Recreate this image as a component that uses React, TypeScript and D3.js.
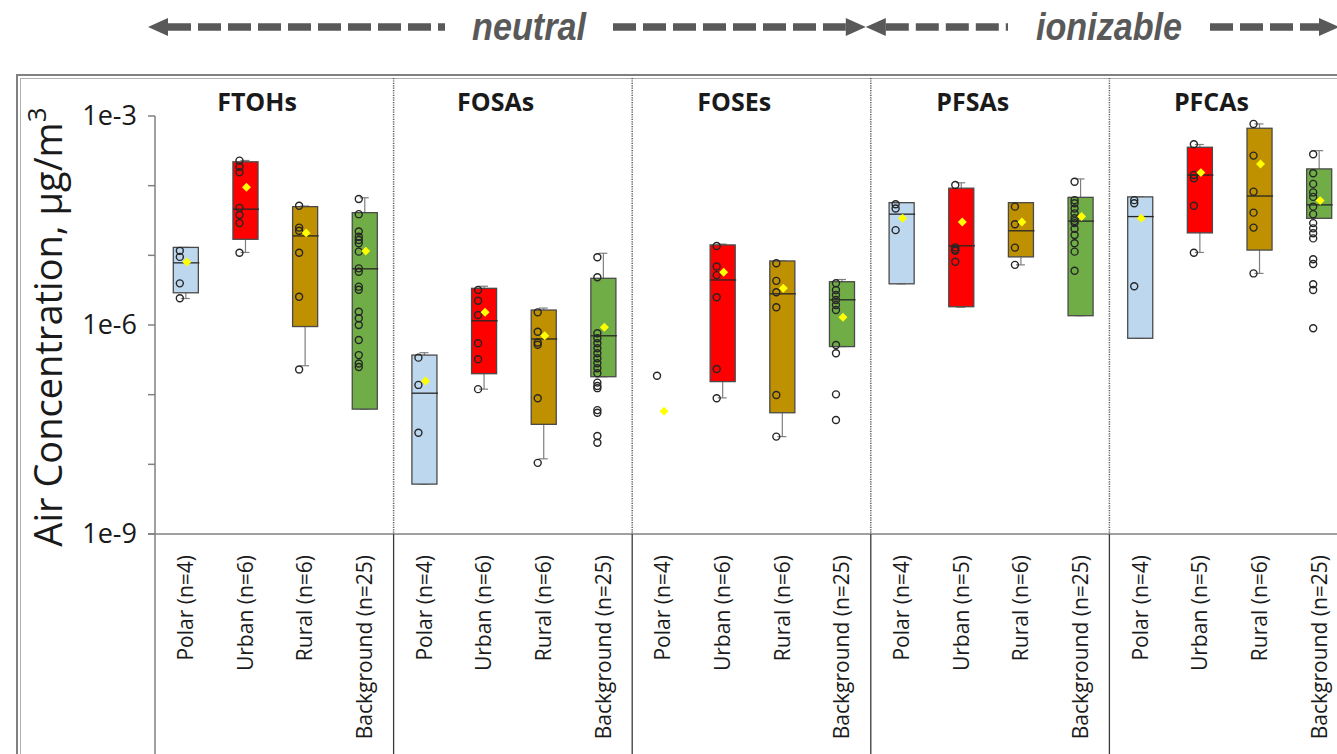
import * as d3 from 'd3';

const width = 1337;
const height = 754;

const classes = ['FTOHs', 'FOSAs', 'FOSEs', 'PFSAs', 'PFCAs'];
const sites = ['Polar', 'Urban', 'Rural', 'Background'];
const siteColors = ['#bdd7ee', '#ff0000', '#bf9000', '#70ad47'];
const sampleCounts = [
    [4, 6, 6, 25],
    [4, 6, 6, 25],
    [4, 6, 6, 25],
    [4, 5, 6, 25],
    [4, 5, 6, 25]
];
const yTicks = [1e-9, 1e-8, 1e-7, 1e-6, 1e-5, 1e-4, 1e-3];
const yTickLabels = ['1e-9', '', '', '1e-6', '', '', '1e-3'];
const groupLabels = ['neutral', 'ionizable'];

// [low whisker, q1, median, q3, high whisker] per site
const ftohBoxes = [
    [2.4e-6, 2.9e-6, 7.8e-6, 1.3e-5, 1.3e-5],
    [1.1e-5, 1.7e-5, 4.6e-5, 2.2e-4, 2.3e-4],
    [2.6e-7, 9.5e-7, 1.9e-5, 5.0e-5, 5.1e-5],
    [6.2e-8, 6.2e-8, 6.4e-6, 4.1e-5, 6.7e-5]
];
const fosaBoxes = [
    [5.2e-9, 5.2e-9, 1.05e-7, 3.7e-7, 4.0e-7],
    [1.2e-7, 2.0e-7, 1.15e-6, 3.36e-6, 3.6e-6],
    [1.2e-8, 3.75e-8, 6.3e-7, 1.64e-6, 1.75e-6],
    [1.81e-7, 1.81e-7, 7.0e-7, 4.68e-6, 1.07e-5]
];
const foseBoxes = [
    null,
    [9.0e-8, 1.54e-7, 4.43e-6, 1.41e-5, 1.45e-5],
    [2.5e-8, 5.5e-8, 2.8e-6, 8.3e-6, 8.3e-6],
    [4.9e-7, 4.9e-7, 2.3e-6, 4.18e-6, 4.5e-6]
];
const pfsaBoxes = [
    [3.9e-6, 3.9e-6, 3.9e-5, 5.7e-5, 5.7e-5],
    [1.8e-6, 1.83e-6, 1.37e-5, 9.2e-5, 1.1e-4],
    [7.3e-6, 9.5e-6, 2.25e-5, 5.7e-5, 5.7e-5],
    [1.36e-6, 1.36e-6, 3.1e-5, 6.8e-5, 1.25e-4]
];
const pfcaBoxes = [
    [6.45e-7, 6.45e-7, 3.6e-5, 6.9e-5, 6.9e-5],
    [1.1e-5, 2.1e-5, 1.42e-4, 3.56e-4, 3.9e-4],
    [5.5e-6, 1.19e-5, 7.1e-5, 6.67e-4, 7.7e-4],
    [3.4e-5, 3.4e-5, 5.3e-5, 1.74e-4, 3.18e-4]
];

const ftohMeans = [8.0e-6, 9.5e-5, 2.1e-5, 1.15e-5];
const fosaMeans = [1.57e-7, 1.52e-6, 7.0e-7, 9.3e-7];
const foseMeans = [5.8e-8, 5.7e-6, 3.36e-6, 1.29e-6];
const pfsaMeans = [3.4e-5, 3.0e-5, 3.0e-5, 3.6e-5];
const pfcaMeans = [3.4e-5, 1.54e-4, 2.05e-4, 6.1e-5];

const ftohPoints = [
    [1.16e-5, 9.5e-6, 3.96e-6, 2.42e-6],
    [2.29e-4, 1.87e-4, 1.56e-4, 4.8e-5, 3.8e-5, 2.9e-5, 1.09e-5],
    [5.15e-5, 2.5e-5, 2.25e-5, 1.09e-5, 2.55e-6, 2.3e-7],
    [6.45e-5, 3.9e-5, 2.2e-5, 1.85e-5, 1.66e-5, 1.49e-5, 1.13e-5, 6.5e-6, 5.8e-6, 3.55e-6, 3.2e-6, 1.55e-6, 1.25e-6, 1.0e-6, 6.1e-7, 3.7e-7, 2.8e-7, 2.5e-7]
];
const fosaPoints = [
    [3.4e-7, 1.38e-7, 2.84e-8],
    [3.18e-6, 2.23e-6, 1.39e-6, 5.47e-7, 3.22e-7, 1.2e-7],
    [1.52e-6, 8.0e-7, 5.6e-7, 5.2e-7, 8.9e-8, 1.05e-8],
    [9.37e-6, 4.84e-6, 7.6e-7, 6.45e-7, 5.47e-7, 4.63e-7, 3.93e-7, 3.33e-7, 2.82e-7, 2.39e-7, 2.03e-7, 1.49e-7, 1.33e-7, 1.24e-7, 6.0e-8, 5.5e-8, 2.55e-8, 2.04e-8]
];
const fosePoints = [
    [1.87e-7],
    [1.36e-5, 6.9e-6, 5.2e-6, 2.5e-6, 2.34e-7, 8.9e-8],
    [7.7e-6, 4.3e-6, 2.95e-6, 1.8e-6, 9.9e-8, 2.5e-8],
    [3.97e-6, 3.18e-6, 2.7e-6, 2.29e-6, 1.94e-6, 1.64e-6, 5.17e-7, 3.93e-7, 1.01e-7, 4.32e-8]
];
const pfsaPoints = [
    [5.4e-5, 4.7e-5, 2.3e-5],
    [1.02e-4, 1.3e-5, 1.2e-5, 1.16e-5, 8.1e-6],
    [5.0e-5, 2.8e-5, 1.29e-5, 7.3e-6],
    [1.14e-4, 6.2e-5, 5.6e-5, 4.7e-5, 4.0e-5, 3.4e-5, 3.1e-5, 2.9e-5, 2.4e-5, 1.96e-5, 1.49e-5, 1.13e-5, 6.0e-6]
];
const pfcaPoints = [
    [6.2e-5, 5.6e-5, 3.6e-6],
    [3.93e-4, 1.42e-4, 1.28e-4, 5.15e-5, 1.09e-5],
    [7.7e-4, 2.7e-4, 8.2e-5, 4.1e-5, 2.5e-5, 5.5e-6],
    [2.82e-4, 1.51e-4, 1.06e-4, 8.0e-5, 6.9e-5, 5.0e-5, 3.9e-5, 2.9e-5, 2.44e-5, 2.07e-5, 1.75e-5, 8.8e-6, 7.5e-6, 3.84e-6, 3.18e-6, 9.0e-7]
];

const boxesByClass = [ftohBoxes, fosaBoxes, foseBoxes, pfsaBoxes, pfcaBoxes];
const meansByClass = [ftohMeans, fosaMeans, foseMeans, pfsaMeans, pfcaMeans];
const pointsByClass = [ftohPoints, fosaPoints, fosePoints, pfsaPoints, pfcaPoints];

// layout
const axisX = 155;
const plotTop = 116;
const plotBottom = 534;
const panelWidth = 238.6;
const arrowY = 27;
const font = "'Open Sans', 'Noto Sans', sans-serif";
const arrowFont = "'Liberation Sans Narrow', 'Liberation Sans', Arial, sans-serif";

function Arrow({ x1, x2, textX, textW, label }: { x1: number; x2: number; textX: number; textW: number; label: string }) {
    const head = 20;
    const gap = 26;
    return (
        <g fill="#595959" stroke="#595959">
            <path d={`M${x1},${arrowY} L${x1 + head},${arrowY - 9} L${x1 + head},${arrowY + 9} Z`} stroke="none" />
            <path d={`M${x2},${arrowY} L${x2 - head},${arrowY - 9} L${x2 - head},${arrowY + 9} Z`} stroke="none" />
            <line x1={x1 + head} x2={textX - textW / 2 - gap} y1={arrowY} y2={arrowY} strokeWidth={7.5} strokeDasharray="23 7" />
            <line x1={textX + textW / 2 + gap} x2={x2 - head} y1={arrowY} y2={arrowY} strokeWidth={7.5} strokeDasharray="23 7" />
            {/* narrow bold italic look */}
            <text
                transform={`translate(${textX}, ${arrowY + 13}) scale(0.9, 1)`}
                stroke="none"
                textAnchor="middle"
                fontFamily={arrowFont}
                fontStyle="italic"
                fontWeight="bold"
                fontSize={38}
                fill="#595959"
            >
                {label}
            </text>
        </g>
    );
}

export default function App() {
    const yScale = d3.scaleLog().domain([1e-9, 1e-3]).range([plotBottom, plotTop]);
    const xPanel = d3
        .scaleBand()
        .domain(classes)
        .range([axisX, axisX + panelWidth * classes.length]);
    const xSite = d3.scaleBand().domain(sites).range([0, panelWidth]).paddingInner(0.58).paddingOuter(0.29);
    const bw = xSite.bandwidth();
    // mean marker: square turned 45°
    const diamond = d3.symbol().type(d3.symbolSquare).size(40)()!;

    const neutralLeft = axisX - 7;
    const neutralRight = xPanel('PFSAs')! - 5;
    const ionRight = width + 2;

    return (
        <svg width={width} height={height} style={{ position: 'absolute', left: 0, top: 0, background: '#fff' }}>
            {/* group arrows */}
            <Arrow x1={neutralLeft} x2={neutralRight} textX={529} textW={116} label={groupLabels[0]} />
            <Arrow x1={neutralRight} x2={ionRight} textX={1109} textW={150} label={groupLabels[1]} />

            {/* frame */}
            <rect x={17} y={75} width={1400} height={800} fill="none" stroke="#808080" strokeWidth={2} />
            <rect x={20.5} y={78.5} width={1400} height={800} fill="none" stroke="#b0b0b0" strokeWidth={1} />

            {/* y axis */}
            <line x1={axisX} x2={axisX} y1={plotTop} y2={height + 10} stroke="#808080" strokeWidth={1.5} />
            <line x1={axisX - 7} x2={width + 10} y1={plotBottom} y2={plotBottom} stroke="#808080" strokeWidth={1.5} />
            {yTicks.map((t, i) => (
                <g key={t}>
                    <line x1={axisX - 7} x2={axisX} y1={yScale(t)} y2={yScale(t)} stroke="#808080" strokeWidth={1.5} />
                    {yTickLabels[i] && (
                        <text
                            x={axisX - 18}
                            y={yScale(t)}
                            dy="0.35em"
                            textAnchor="end"
                            fontFamily={font}
                            fontSize={27}
                            fill="#1a1a1a"
                        >
                            {yTickLabels[i]}
                        </text>
                    )}
                </g>
            ))}
            <text
                transform={`translate(62, ${(plotTop + plotBottom) / 2 + 2}) rotate(-90)`}
                textAnchor="middle"
                fontFamily={font}
                fontSize={38}
                fill="#1a1a1a"
            >
                Air Concentration, µg/m
                <tspan fontSize={26} dy={-16}>
                    3
                </tspan>
            </text>

            {/* panel separators */}
            {classes.slice(1).map((c) => (
                <g key={c}>
                    <line
                        x1={xPanel(c)!}
                        x2={xPanel(c)!}
                        y1={78}
                        y2={plotBottom}
                        stroke="#5a5a5a"
                        strokeWidth={1.5}
                        strokeDasharray="1.2 1.2"
                    />
                    <line x1={xPanel(c)!} x2={xPanel(c)!} y1={plotBottom} y2={height + 10} stroke="#3a3a3a" strokeWidth={1.3} />
                </g>
            ))}

            {classes.map((c, ci) => {
                const x0 = xPanel(c)!;
                return (
                    <g key={c}>
                        <text
                            x={x0 + 102}
                            y={111}
                            textAnchor="middle"
                            fontFamily={font}
                            fontWeight="bold"
                            fontSize={25}
                            fill="#1a1a1a"
                        >
                            {c}
                        </text>
                        {sites.map((s, si) => {
                            const cx = x0 + xSite(s)! + bw / 2 + 1;
                            const box = boxesByClass[ci][si];
                            const pts = pointsByClass[ci][si];
                            return (
                                <g key={s}>
                                    {box && (
                                        <g>
                                            <line x1={cx} x2={cx} y1={yScale(box[0])} y2={yScale(box[1])} stroke="#7f7f7f" strokeWidth={1.2} />
                                            <line x1={cx} x2={cx} y1={yScale(box[3])} y2={yScale(box[4])} stroke="#7f7f7f" strokeWidth={1.2} />
                                            <line x1={cx - 5} x2={cx + 4} y1={yScale(box[0])} y2={yScale(box[0])} stroke="#7f7f7f" strokeWidth={1.2} />
                                            <line x1={cx - 5} x2={cx + 4} y1={yScale(box[4])} y2={yScale(box[4])} stroke="#7f7f7f" strokeWidth={1.2} />
                                            <rect
                                                x={cx - bw / 2}
                                                y={yScale(box[3])}
                                                width={bw}
                                                height={yScale(box[1]) - yScale(box[3])}
                                                fill={siteColors[si]}
                                                stroke="#4a4a4a"
                                                strokeWidth={1.3}
                                            />
                                            <line
                                                x1={cx - bw / 2}
                                                x2={cx + bw / 2 + 1}
                                                y1={yScale(box[2])}
                                                y2={yScale(box[2])}
                                                stroke="#262626"
                                                strokeWidth={1.3}
                                            />
                                        </g>
                                    )}
                                    {pts.map((p, pi) => (
                                        <circle key={pi} cx={cx - 6} cy={yScale(p)} r={3.5} fill="none" stroke="#262626" strokeWidth={1.4} />
                                    ))}
                                    <path
                                        d={diamond}
                                        transform={`translate(${cx + 1}, ${yScale(meansByClass[ci][si])}) rotate(45)`}
                                        fill="#ffff00"
                                    />
                                    <text
                                        transform={`translate(${cx}, 555) rotate(-90)`}
                                        dy="0.35em"
                                        textAnchor="end"
                                        fontFamily={font}
                                        fontSize={21}
                                        fill="#1a1a1a"
                                    >
                                        {`${s} (n=${sampleCounts[ci][si]})`}
                                    </text>
                                </g>
                            );
                        })}
                    </g>
                );
            })}
        </svg>
    );
}
